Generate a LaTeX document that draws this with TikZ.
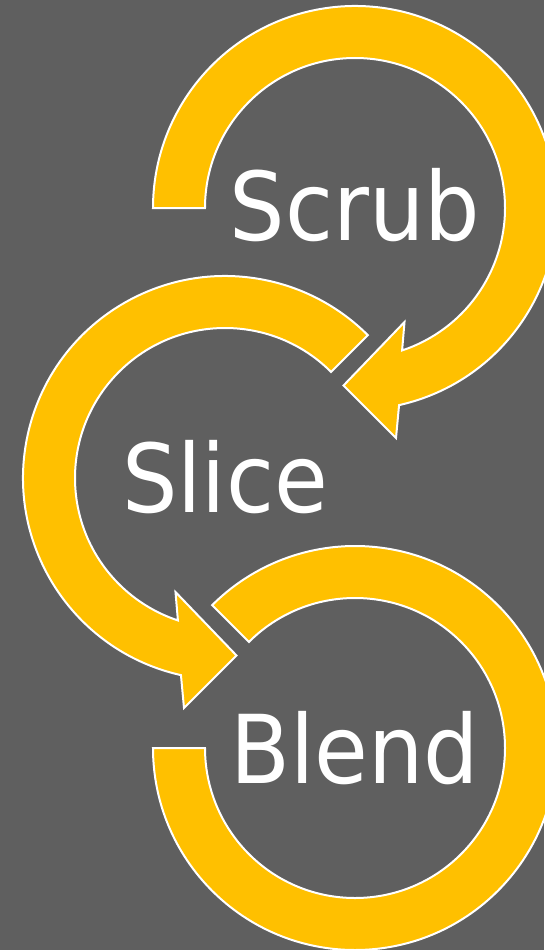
\documentclass[tikz,border=0pt]{standalone}
\usepackage{fontspec}
\setmainfont[FakeStretch=0.92]{DejaVu Sans}
\usetikzlibrary{calc}
\definecolor{bg}{HTML}{5F5F5F}
\definecolor{gold}{HTML}{FFC000}
\begin{document}
\begin{tikzpicture}[x=1pt,y=1pt,
  arrowshape/.style={fill=gold, draw=white, line width=2pt, line join=miter},
  lbl/.style={text=white, font=\fontsize{95}{95}\selectfont, anchor=base, inner sep=0pt}]
\fill[bg] (0,0) rectangle (544,-950);
\useasboundingbox (0,0) rectangle (544,-950);
\coordinate (c1) at (355,-208);
\coordinate (c2) at (225,-478);
\coordinate (c3) at (355,-748);
% arrow 1
\draw[arrowshape] ($(c1)+(180:150)$) arc[start angle=180,end angle=-71.7,radius=150]
  -- ($(c1)+(49.5,-114)$) -- ($(c1)+(-11.5,-177.5)$) -- ($(c1)+(41,-230)$)
  -- ($(c1)+(-77.4:202)$) arc[start angle=-77.4,end angle=180,radius=202] -- cycle;
% arrow 2
\draw[arrowshape] ($(c2)+(45:150)$) arc[start angle=45,end angle=251.7,radius=150]
  -- ($(c2)+(-49.5,-114)$) -- ($(c2)+(11.5,-177.5)$) -- ($(c2)+(-41,-230)$)
  -- ($(c2)+(257.4:202)$) arc[start angle=257.4,end angle=45,radius=202] -- cycle;
% arrow 3
\draw[arrowshape] ($(c3)+(135:150)$) arc[start angle=135,end angle=-180,radius=150]
  -- ($(c3)+(180:202)$) arc[start angle=-180,end angle=135,radius=202] -- cycle;
\node[lbl] (t1) at ($(c1)+(0,-32)$) {Scrub};
\node[lbl] (t2) at ($(c2)+(0,-34)$) {Slice};
\node[lbl] (t3) at ($(c3)+(0,-35)$) {Blend};
\end{tikzpicture}
\end{document}
